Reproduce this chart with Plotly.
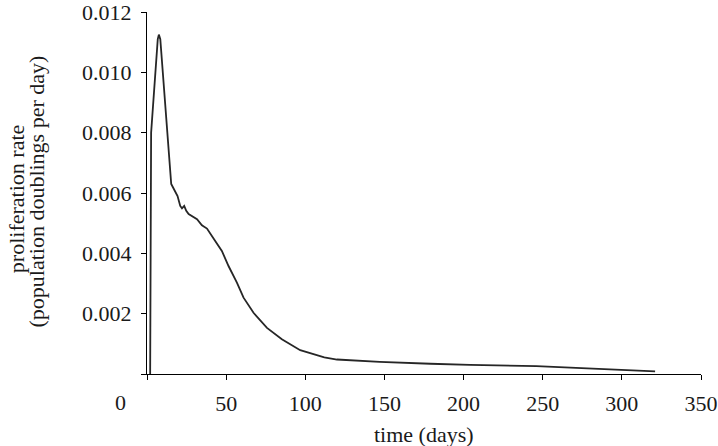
import plotly.graph_objects as go

# data
days = [2.0, 2.6, 6.8, 7.5, 8.4, 15.3, 16.3, 17.2, 19.3, 21.0, 22.1, 23.5, 24.8,
        26.3, 28.4, 31.6, 34.7, 37.9, 43.1, 47.3, 51.5, 56.8, 61.0, 67.3, 75.8,
        85.2, 96.8, 105.3, 112.0, 120.0, 147.0, 179.0, 204.0, 246.0, 288.0, 321.0]
rate = [0.0, 0.0080, 0.0111, 0.01125, 0.0111, 0.0063, 0.0062, 0.0061, 0.0059,
        0.00557, 0.00549, 0.00557, 0.00541, 0.00530, 0.00524, 0.00513, 0.00493,
        0.00482, 0.00441, 0.00408, 0.00358, 0.00303, 0.00253, 0.00203, 0.00153,
        0.00115, 0.00079, 0.00065, 0.00055, 0.00048, 0.00040, 0.00034, 0.00030,
        0.00026, 0.00016, 0.00009]

x_ticks = [0, 50, 100, 150, 200, 250, 300, 350]
x_labels = ["0", "50", "100", "150", "200", "250", "300", "350"]
y_ticks = [0, 0.002, 0.004, 0.006, 0.008, 0.010, 0.012]
y_labels = ["", "0.002", "0.004", "0.006", "0.008", "0.010", "0.012"]

x_title = "time (days)"
y_title_1 = "proliferation rate"
y_title_2 = "(population doublings per day)"

FONT = "Liberation Serif, Times New Roman, serif"
FS = 22

fig = go.Figure()
fig.add_trace(go.Scatter(x=days, y=rate, mode="lines",
                         line=dict(color="#262626", width=1.8),
                         showlegend=False, hoverinfo="skip"))

axis_common = dict(showline=True, linecolor="black", linewidth=1.3,
                   ticks="outside", ticklen=5, tickcolor="black", tickwidth=1.3,
                   showgrid=False, zeroline=False, automargin=False,
                   ticklabeloverflow="allow",
                   tickfont=dict(family=FONT, size=FS, color="#1a1a1a"))

fig.update_layout(
    width=718, height=446,
    margin=dict(l=147, r=17, t=12, b=72),
    paper_bgcolor="white", plot_bgcolor="white",
    xaxis=dict(range=[0, 350], tickvals=x_ticks,
               ticktext=[""] + x_labels[1:], ticklabelstandoff=4,
               **axis_common),
    yaxis=dict(range=[0, 0.0120001], tickvals=y_ticks, ticktext=y_labels,
               ticklabelstandoff=5, **axis_common),
)

ann_font = dict(family=FONT, size=FS, color="#1a1a1a")
fig.add_annotation(text=x_labels[0], x=-0.047, xref="paper", y=0, yref="paper",
                   xanchor="center", yanchor="middle", showarrow=False,
                   font=ann_font, yshift=-28)
fig.add_annotation(text=x_title, x=0.5, xref="paper", y=0, yref="paper",
                   xanchor="center", yanchor="middle", showarrow=False,
                   font=ann_font, yshift=-60)
fig.add_annotation(text=y_title_1, x=0, xref="paper", y=0.483, yref="paper",
                   xanchor="center", yanchor="middle", textangle=-90,
                   showarrow=False, font=ann_font, xshift=-131)
fig.add_annotation(text=y_title_2, x=0, xref="paper", y=0.504, yref="paper",
                   xanchor="center", yanchor="middle", textangle=-90,
                   showarrow=False, font=ann_font, xshift=-110)

fig.write_html("out.html", config={"displayModeBar": False},
               post_script="document.body.style.margin='0';")
